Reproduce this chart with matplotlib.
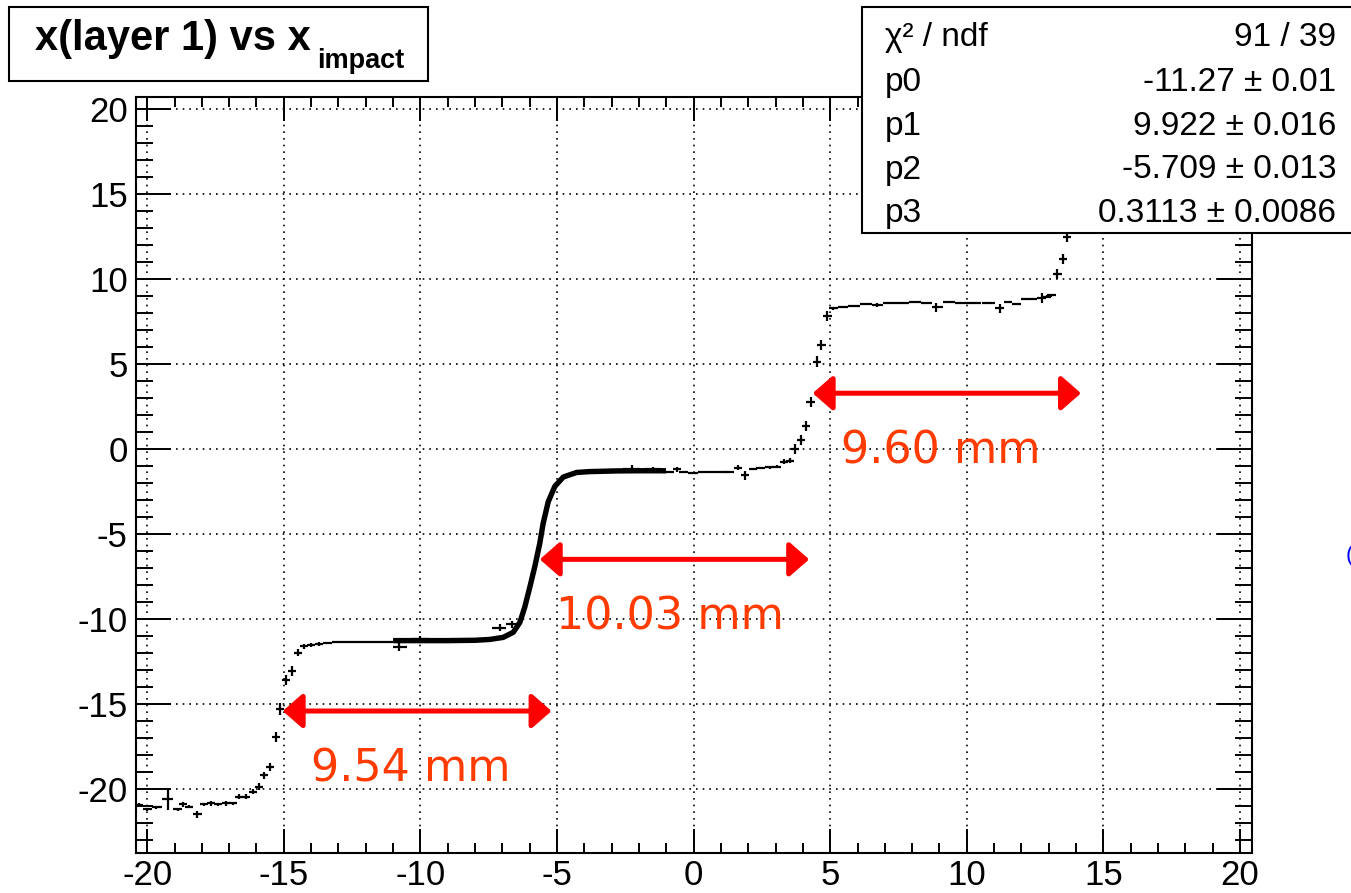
import matplotlib
matplotlib.use('Agg')
import matplotlib.pyplot as plt
from matplotlib.patches import Rectangle
from matplotlib.ticker import MultipleLocator

# profile points drawn as crosses (x, mean, error on mean)
pts_x = [-20.30, -20.00, -19.68, -19.25, -18.89, -18.70, -18.46, -18.16, -17.91, -17.67,
         -17.42, -17.12, -16.87, -16.63, -16.39, -16.14, -15.90, -15.72, -15.51, -15.29,
         -15.14, -14.92, -14.70, -14.49, -14.25, -14.01, -13.70, -13.40, -13.09, -12.79,
         -12.48, -12.18, -11.87, -11.57, -11.26, -10.78, -10.00, -7.09, -6.66,
         -2.27, -1.49, -0.87, -0.60, -0.38, 0.00, 0.35, 0.72, 1.08, 1.33, 1.63,
         1.88, 2.18, 2.45, 2.79, 3.05, 3.30, 3.53, 3.71, 3.93, 4.11,
         4.28, 4.52, 4.68, 4.90, 5.11, 5.48, 5.84, 6.33, 6.70, 7.18,
         7.67, 8.10, 8.53, 8.89, 9.38, 9.75, 10.23, 10.84, 11.21, 11.52,
         11.82, 12.13, 12.43, 12.74, 12.92, 13.10, 13.32, 13.51, 13.68]
pts_y = [-20.92, -21.20, -21.08, -20.60, -21.20, -20.90, -21.04, -21.49, -20.90, -20.84,
         -20.90, -20.84, -20.84, -20.45, -20.45, -20.16, -19.86, -19.18, -18.69, -16.96,
         -15.31, -13.59, -13.04, -11.98, -11.59, -11.53, -11.47, -11.43, -11.35, -11.33,
         -11.33, -11.33, -11.37, -11.37, -11.33, -11.63, -11.15, -10.50, -10.30,
         -1.15, -1.20, -1.33, -1.20, -1.33, -1.39, -1.37, -1.33, -1.33, -1.37, -1.10,
         -1.55, -1.18, -1.12, -1.08, -1.05, -0.74, -0.70, -0.02, 0.55, 1.35,
         2.78, 5.14, 6.12, 7.82, 8.27, 8.37, 8.41, 8.53, 8.47, 8.57,
         8.61, 8.67, 8.57, 8.33, 8.67, 8.61, 8.61, 8.61, 8.27, 8.67,
         8.53, 8.80, 8.80, 8.86, 8.96, 9.04, 10.29, 11.16, 12.49]
pts_err = [0.10, 0.10, 0.10, 0.65, 0.10, 0.15, 0.10, 0.20, 0.10, 0.15,
           0.10, 0.15, 0.10, 0.15, 0.15, 0.15, 0.20, 0.20, 0.25, 0.30,
           0.35, 0.30, 0.30, 0.20, 0.15, 0.10, 0.10, 0.05, 0.05, 0.05,
           0.05, 0.05, 0.05, 0.05, 0.05, 0.25, 0.15, 0.20, 0.20,
           0.20, 0.15, 0.05, 0.15, 0.05, 0.05, 0.05, 0.05, 0.05, 0.05, 0.15,
           0.25, 0.08, 0.08, 0.08, 0.08, 0.15, 0.15, 0.30, 0.30, 0.30,
           0.30, 0.30, 0.30, 0.30, 0.10, 0.06, 0.06, 0.06, 0.10, 0.06,
           0.06, 0.06, 0.06, 0.25, 0.06, 0.06, 0.06, 0.06, 0.25, 0.06,
           0.06, 0.06, 0.06, 0.30, 0.10, 0.10, 0.30, 0.30, 0.30]

# high-statistics part, where the bins merge into a thick line
dense_x = [-10.9, -10.0, -9.0, -8.0, -7.46, -6.97, -6.60, -6.36, -6.18, -5.99, -5.81,
           -5.63, -5.51, -5.32, -5.08, -4.77, -4.28, -3.80, -2.82, -1.97, -1.11]
dense_y = [-11.27, -11.27, -11.27, -11.25, -11.20, -11.08, -10.78, -10.20, -9.30, -8.10, -6.90,
           -5.55, -4.40, -3.10, -2.20, -1.65, -1.38, -1.33, -1.29, -1.28, -1.28]

# pitch annotations: (x start, x end, y) and (label, x, y)
arrows = [(-15.04, -5.20, -15.41), (-5.63, 4.23, -6.49), (4.36, 14.18, 3.28)]
labels = [('9.54 mm', -10.34, -18.82), ('10.03 mm', -0.87, -9.86), ('9.60 mm', 9.03, -0.10)]

stat_names = ['χ² / ndf', 'p0', 'p1', 'p2', 'p3']
stat_values = ['91 / 39', '-11.27 ± 0.01', '9.922 ± 0.016', '-5.709 ± 0.013', '0.3113 ± 0.0086']

W, H = 1351, 893
plt.rcParams['font.family'] = ['Liberation Sans', 'DejaVu Sans']
plt.rcParams['axes.unicode_minus'] = False

fig = plt.figure(figsize=(W / 100, H / 100), dpi=100, facecolor='white')
ax = fig.add_axes([136 / W, 1 - 853 / H, (1252 - 136) / W, (853 - 97) / H])

# horizontal bars reach half way to the neighbouring bins (like a profile)
xlo, xhi = [], []
for i, x in enumerate(pts_x):
    left = (x - pts_x[i - 1]) / 2 if i > 0 else 0.15
    right = (pts_x[i + 1] - x) / 2 if i < len(pts_x) - 1 else 0.15
    xlo.append(min(max(left, 0.15), 0.3))
    xhi.append(min(max(right, 0.15), 0.3))

ax.plot(dense_x, dense_y, color='black', lw=3.9, solid_joinstyle='round', zorder=3)
ax.errorbar(pts_x, pts_y, xerr=[xlo, xhi], yerr=pts_err, fmt='none', ecolor='black',
            elinewidth=1.6, capsize=0, zorder=3)

for x0, x1, y in arrows:
    ax.annotate('', xy=(x1, y), xytext=(x0, y),
                arrowprops=dict(arrowstyle='<|-|>,head_length=1.2,head_width=1.05',
                                mutation_scale=10, color='#ff0000', lw=3.6,
                                shrinkA=0, shrinkB=0), zorder=4)
for txt, x, y in labels:
    ax.text(x, y, txt, color='#ff3b00', fontsize=32, family='DejaVu Sans',
            ha='center', va='center', zorder=4)

ax.set_xlim(-20.41, 20.44)
ax.set_ylim(-23.76, 20.7)
ax.xaxis.set_major_locator(MultipleLocator(5))
ax.xaxis.set_minor_locator(MultipleLocator(1))
ax.yaxis.set_major_locator(MultipleLocator(5))
ax.yaxis.set_minor_locator(MultipleLocator(1))
ax.grid(True, which='major', color='black', linestyle=(0, (1, 3)), linewidth=1.2)
ax.set_axisbelow(True)

for s in ax.spines.values():
    s.set_linewidth(1.5)
ax.tick_params(axis='both', which='both', direction='in', width=1.4, colors='black')
ax.tick_params(axis='x', which='major', length=17, top=True, pad=4, labelsize=25)
ax.tick_params(axis='x', which='minor', length=7.5, top=True)
ax.tick_params(axis='y', which='major', length=25, right=True, pad=6, labelsize=25)
ax.tick_params(axis='y', which='minor', length=12.5, right=True)

# title box
fig.add_artist(Rectangle((9.3 / W, 1 - 81 / H), (428 - 9.3) / W, (81 - 6.7) / H,
                         transform=fig.transFigure, facecolor='white',
                         edgecolor='black', lw=1.5, zorder=5))
fig.text(35 / W, 1 - 50 / H, 'x(layer 1) vs x', fontsize=30, fontweight='bold',
         va='baseline', ha='left', zorder=6)
fig.text(317 / W, 1 - 68 / H, 'impact', fontsize=19.5, fontweight='bold',
         va='baseline', ha='left', zorder=6)

# fit statistics box
fig.add_artist(Rectangle((861.7 / W, 1 - 232.7 / H), (1400 - 861.7) / W, (232.7 - 7) / H,
                         transform=fig.transFigure, facecolor='white',
                         edgecolor='black', lw=1.5, zorder=5))
baselines = [45.7, 90.7, 135, 178.5, 221.7]
for name, val, b in zip(stat_names, stat_values, baselines):
    fig.text(885 / W, 1 - b / H, name, fontsize=24, va='baseline', ha='left', zorder=6)
    fig.text(1336 / W, 1 - b / H, val, fontsize=24, va='baseline', ha='right', zorder=6)

# cut-off blue glyph at the right border
fig.text(1346 / W, 1 - 556 / H, '(', color='blue', fontsize=16, va='center', ha='left')

fig.savefig('out.png', dpi=100)
